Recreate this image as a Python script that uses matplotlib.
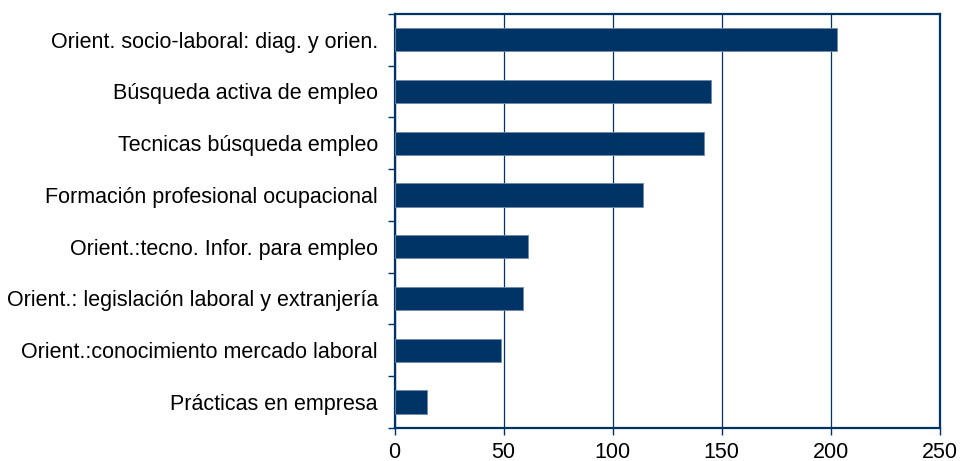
import numpy as np
import matplotlib.pyplot as plt
from matplotlib.ticker import FixedLocator

plt.rcParams['font.family'] = ['Liberation Sans', 'DejaVu Sans']

categories = ['Orient. socio-laboral: diag. y orien.',
              'Búsqueda activa de empleo',
              'Tecnicas búsqueda empleo',
              'Formación profesional ocupacional',
              'Orient.:tecno. Infor. para empleo',
              'Orient.: legislación laboral y extranjería',
              'Orient.:conocimiento mercado laboral',
              'Prácticas en empresa']
values = [203, 145, 142, 114, 61, 59, 49, 15]

navy = '#003366'

fig = plt.figure(figsize=(9.6, 4.61), dpi=100)
ax = fig.add_axes([0.411, 0.072, 0.568, 0.898])

y = np.arange(len(categories))[::-1]
ax.barh(y, values, height=0.45, color=navy, edgecolor='#6f8aa8', linewidth=0.6, zorder=3)

ax.set_xlim(0, 250)
ax.set_ylim(-0.5, len(categories) - 0.5)
ax.set_xticks(np.arange(0, 251, 50))
ax.set_yticks(y)
ax.set_yticklabels(categories)
ax.yaxis.set_minor_locator(FixedLocator(np.arange(-0.5, len(categories), 1)))
ax.tick_params(axis='y', which='major', length=0, pad=12, labelsize=15.5)
ax.tick_params(axis='y', which='minor', length=5, width=1, color=navy, direction='out')
ax.tick_params(axis='x', length=5, width=1, color=navy, direction='out', pad=5, labelsize=15.5)

ax.grid(axis='x', color=navy, linewidth=0.9, zorder=0)
for s in ax.spines.values():
    s.set_color(navy)
    s.set_linewidth(1.6)

fig.savefig('out.png', dpi=100)
